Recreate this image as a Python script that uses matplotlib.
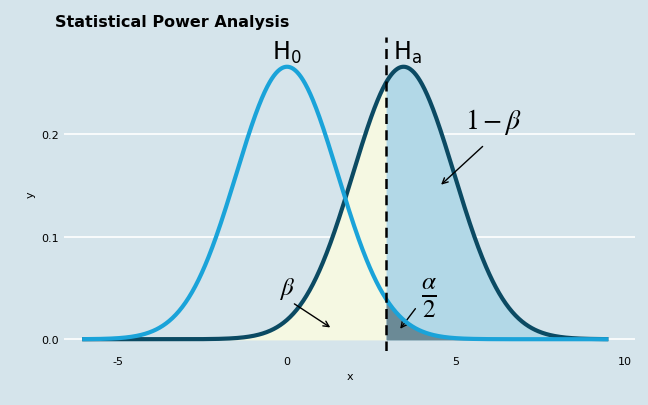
import numpy as np
import matplotlib
matplotlib.use("Agg")
import matplotlib.pyplot as plt

mu0, mua, sd = 0.0, 3.45, 1.5
crit = 2.94
x_lo, x_hi = -6.0, 9.45
yticks = [0.0, 0.1, 0.2]
xticks = [-5, 0, 5, 10]

x = np.linspace(x_lo, x_hi, 800)
pdf = lambda x, m: np.exp(-0.5*((x-m)/sd)**2)/(np.sqrt(2*np.pi)*sd)
h0 = pdf(x, mu0); ha = pdf(x, mua)

bg = "#d5e4eb"
fig = plt.figure(figsize=(6.48, 4.06), dpi=100, facecolor=bg)
ax = fig.add_axes([64/648, 1-352/406, (635-64)/648, (352-38)/406], facecolor=bg)
ax.set_xlim(-6.6, 10.3); ax.set_ylim(-0.0115, 0.295)
for s in ax.spines.values(): s.set_visible(False)
for yv in yticks: ax.axhline(yv, color="white", lw=1.2, zorder=0)

l = x <= crit
ax.fill_between(x[l], 0, ha[l], color="#f5f8e2", zorder=1)
ax.fill_between(x[~l], 0, ha[~l], color="#b2d8e7", zorder=1)
ax.fill_between(x[~l], 0, h0[~l], color="#6b8a96", zorder=2)
ax.plot(x, ha, color="#0b4a63", lw=3, zorder=3)
ax.plot(x, h0, color="#1aa3d9", lw=3, zorder=4)
ax.axvline(crit, color="black", lw=1.8, ls=(0, (4, 2.5)), zorder=5)

ax.set_xticks(xticks); ax.set_yticks(yticks)
ax.set_yticklabels(["0.0", "0.1", "0.2"])
ax.set_xticklabels(["-5", "0", "5", "10"])
ax.tick_params(length=0, labelsize=8, colors="black")
ax.set_xlabel("x", fontsize=8); ax.set_ylabel("y", fontsize=8)
fig.text(55/648, 1-22/406, "Statistical Power Analysis", fontsize=11.5, fontweight="bold", va="center")

ax.text(0, 0.268, r"$\mathrm{H_0}$", fontsize=17, ha="center", va="bottom")
ax.text(3.55, 0.268, r"$\mathrm{H_a}$", fontsize=17, ha="center", va="bottom")
ax.text(6.1, 0.198, r"$1-\beta$", fontsize=20, ha="center", va="bottom", math_fontfamily="stix")
ax.annotate("", xy=(4.5, 0.149), xytext=(5.85, 0.19), arrowprops=dict(arrowstyle="->", lw=1))
ax.text(0, 0.037, r"$\beta$", fontsize=18, ha="center", va="bottom", math_fontfamily="stix")
ax.annotate("", xy=(1.35, 0.01), xytext=(0.15, 0.036), arrowprops=dict(arrowstyle="->", lw=1))
ax.text(4.2, 0.02, r"$\frac{\alpha}{2}$", fontsize=26, ha="center", va="bottom", math_fontfamily="stix")
ax.annotate("", xy=(3.3, 0.008), xytext=(3.85, 0.032), arrowprops=dict(arrowstyle="->", lw=1))

fig.savefig("out.png", dpi=100, facecolor=bg)
